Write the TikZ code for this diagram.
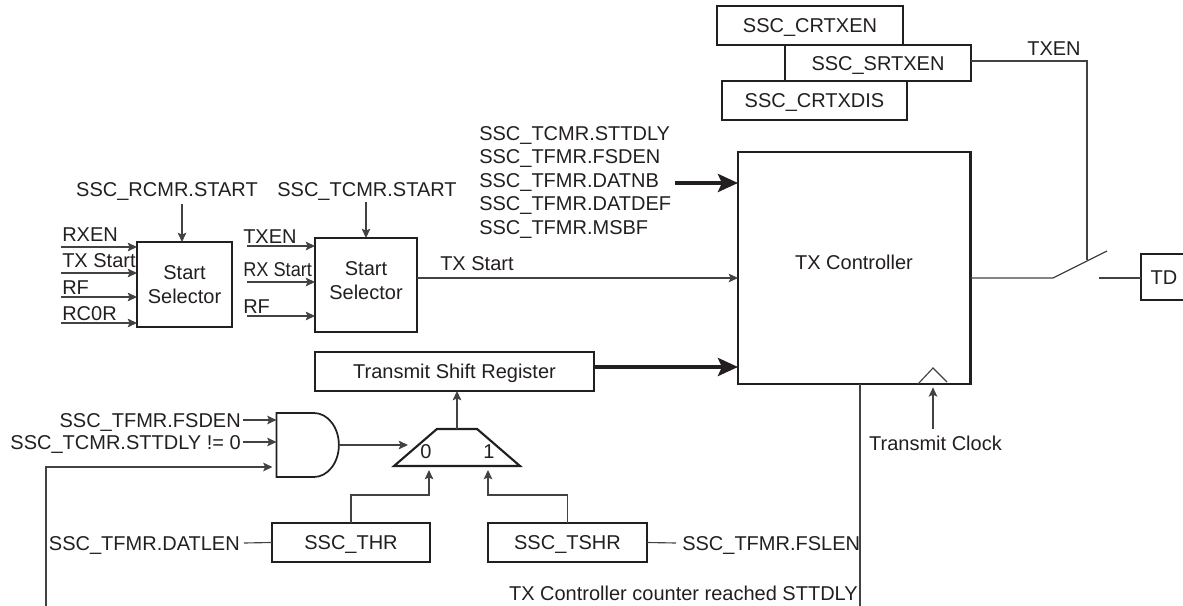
\documentclass[tikz,border=0pt]{standalone}
\usepackage{fontspec}
\setmainfont{Liberation Sans}
\usepackage{xcolor}
\definecolor{ink}{HTML}{231F20}
\usetikzlibrary{arrows.meta, positioning, shapes.geometric, shapes.gates.logic.US}

\begin{document}
\begin{tikzpicture}[
    x=0.75pt, y=-0.75pt,
    color=ink,
    font=\fontsize{15}{18}\selectfont,
    box/.style={
        rectangle,
        draw,
        fill=white,
        line width=1.6pt,
        inner sep=0pt,
        outer sep=0pt,
        align=center
    },
    reg/.style={box, text height=10.6pt, text depth=0pt},
    lab/.style={inner sep=0pt, text height=10.6pt, text depth=0pt},
    wire/.style={line width=0.85pt, ink!85},
    arr/.style={-{Stealth[length=7pt, width=6.5pt, inset=1.5pt]}, line width=0.85pt, ink!85},
    bigarr/.style={-{Stealth[length=15pt, width=13.5pt, inset=3pt]}, line width=3pt}
]
\useasboundingbox (0,0) rectangle (1183,606);

\node[reg, minimum width=139.5pt, minimum height=29.25pt] (crtxen)  at (810,25.5)   {SSC\_CRTXEN};
\node[reg, minimum width=139pt,   minimum height=29.25pt] (crtxdis) at (814.5,100.5) {SSC\_CRTXDIS};
\node[reg, minimum width=139.5pt, minimum height=27pt]    (srtxen)  at (878,63)     {SSC\_SRTXEN};

\node[box, minimum width=174.4pt, minimum height=174pt] (txc) at (854.25,268) {};
\node[lab] (txclab) at (854,262) {TX Controller};
\node[reg, minimum width=34.5pt, minimum height=34.5pt] (td) at (1164,277) {TD};

\node[box, minimum width=71.25pt, minimum height=63.75pt] (sela) at (184.5,284.5) {Start\\Selector};
\node[box, minimum width=76.5pt,  minimum height=70.5pt]  (selb) at (366,285)     {};
\node[inner sep=0pt, align=center] (selblab) at (366,281) {Start\\Selector};
\node[reg, minimum width=209.25pt, minimum height=29.25pt] (shreg) at (454.5,371.5) {Transmit Shift Register};
\node[reg, minimum width=118.5pt, minimum height=29.25pt] (thr)  at (351,542.5) {SSC\_THR};
\node[reg, minimum width=119.25pt, minimum height=29.25pt] (tshr) at (567.5,542.5) {SSC\_TSHR};

\node[and gate US, draw, logic gate inputs=nnn, line width=1.3pt, inner sep=0pt, outer sep=0pt,
      xscale=0.78, transform shape, minimum width=48pt, minimum height=48pt] (andg) at (305.6,445) {};
\node[trapezium, draw, line width=1.6pt, inner sep=0pt, outer sep=0pt, trapezium stretches=true,
      trapezium left angle=50, trapezium right angle=50,
      minimum width=94.5pt, minimum height=27.75pt] (mux) at (457,447.5) {\phantom{0}};
\node[lab] (muxa) at (426,451) {0};
\node[lab] (muxb) at (489,451) {1};

\node[lab] (rcmrstart) at (167,189) {SSC\_RCMR.START};
\node[lab] (tcmrstart) at (367,189) {SSC\_TCMR.START};
\node[lab, anchor=west] (rxen)   at (62,234)  {RXEN};
\node[lab, anchor=west] (txsa)   at (62,260)  {TX Start};
\node[lab, anchor=west] (rfa)    at (62,287)  {RF};
\node[lab, anchor=west] (rcor)   at (62,313)  {RC0R};
\node[lab, anchor=west] (txenb)  at (243,236) {TXEN};
\node[lab, anchor=west] (rxs)    at (243,269) {\scalebox{0.91}[1]{RX Start}};
\node[lab, anchor=west] (rfb)    at (243,306) {RF};
\node[lab, anchor=west] (txsb)   at (440,263) {TX Start};
\node[lab, anchor=west] (sttdly) at (479,133) {SSC\_TCMR.STTDLY};
\node[lab, anchor=west] (fsden)  at (479,156) {SSC\_TFMR.FSDEN};
\node[lab, anchor=west] (datnb)  at (479,180) {SSC\_TFMR.DATNB};
\node[lab, anchor=west] (datdef) at (479,203) {SSC\_TFMR.DATDEF};
\node[lab, anchor=west] (msbf)   at (479,227) {SSC\_TFMR.MSBF};
\node[lab] (txenlab) at (1054,48) {TXEN};
\node[lab, anchor=east] (andfsden) at (241,420) {SSC\_TFMR.FSDEN};
\node[lab, anchor=east] (andstt)   at (241,442) {SSC\_TCMR.STTDLY != 0};
\node[lab, anchor=east] (datlen)   at (240,543) {SSC\_TFMR.DATLEN};
\node[lab, anchor=west] (fslen)    at (682,543) {SSC\_TFMR.FSLEN};
\node[lab, anchor=east] (cntlab)   at (858,593) {TX Controller counter reached STTDLY};
\node[lab] (clklab) at (935.5,443) {Transmit Clock};

\coordinate (ina) at (61,247);
\coordinate (inb) at (61,273);
\coordinate (inc) at (61,297);
\coordinate (ind) at (61,323);
\coordinate (ine) at (247,246);
\coordinate (inf) at (247,282);
\coordinate (ing) at (247,316);
\coordinate (rcin) at (182,204);
\coordinate (tcin) at (366,202);
\coordinate (txout) at (417,278);
\coordinate (thka) at (675,183);
\coordinate (thkb) at (594,367);
\coordinate (txenc) at (1087,61);
\coordinate (swt) at (1087,260);
\coordinate (swa) at (1053,278);
\coordinate (swb) at (1107,251);
\coordinate (swc) at (1099,278);
\coordinate (cnt) at (860,606);
\coordinate (clkin) at (933,429);
\coordinate (clka) at (918,384);
\coordinate (clkb) at (933,368);
\coordinate (clkc) at (947,382);
\coordinate (fba) at (46,606);
\coordinate (fbb) at (46,467);
\coordinate (anda) at (243,420);
\coordinate (andb) at (243,442);
\coordinate (muxin) at (408,445);
\coordinate (muxl) at (429,495);
\coordinate (muxr) at (488,495);
\coordinate (lena) at (244,543);
\coordinate (lenb) at (676,543);

\draw[arr] (ina) -- (ina -| sela.west);
\draw[arr] (inb) -- (inb -| sela.west);
\draw[arr] (inc) -- (inc -| sela.west);
\draw[arr] (ind) -- (ind -| sela.west);
\draw[arr] (ine) -- (ine -| selb.west);
\draw[arr] (inf) -- (inf -| selb.west);
\draw[arr] (ing) -- (ing -| selb.west);
\draw[arr] (rcin) -- (rcin |- sela.north);
\draw[arr] (tcin) -- (tcin |- selb.north);
\draw[arr] (txout) -- (txout -| txc.west);
\draw[bigarr] (thka) -- (thka -| txc.west);
\draw[bigarr] (thkb) -- (thkb -| txc.west);

\draw[wire] (txenc -| srtxen.east) -- (txenc) -- (swt);
\draw[wire] (swa -| txc.east) -- (swa) -- (swb);
\draw[wire] (swc) -- (swc -| td.west);
\draw[wire] (cnt |- txc.south) -- (cnt);
\draw[wire] (clka) -- (clkb) -- (clkc);
\draw[arr, shorten >=2.5pt] (clkin) -- (clkin |- txc.south);

\draw[arr] (anda) -- (anda -| andg.west);
\draw[arr] (andb) -- (andb -| andg.west);
\draw[arr, shorten >=3pt] (fba) -- (fbb) -- (fbb -| andg.west);
\draw[arr] (andg.east) -- (muxin);
\draw[arr] (mux.north) -- (mux.north |- shreg.south);
\draw[arr, shorten >=3pt] (thr.north) |- (muxl) -- (muxl |- mux.south);
\draw[arr, shorten >=3pt] (tshr.north) |- (muxr) -- (muxr |- mux.south);
\draw[wire] (lena) -- (thr.west);
\draw[wire] (tshr.east) -- (lenb);
\end{tikzpicture}
\end{document}
